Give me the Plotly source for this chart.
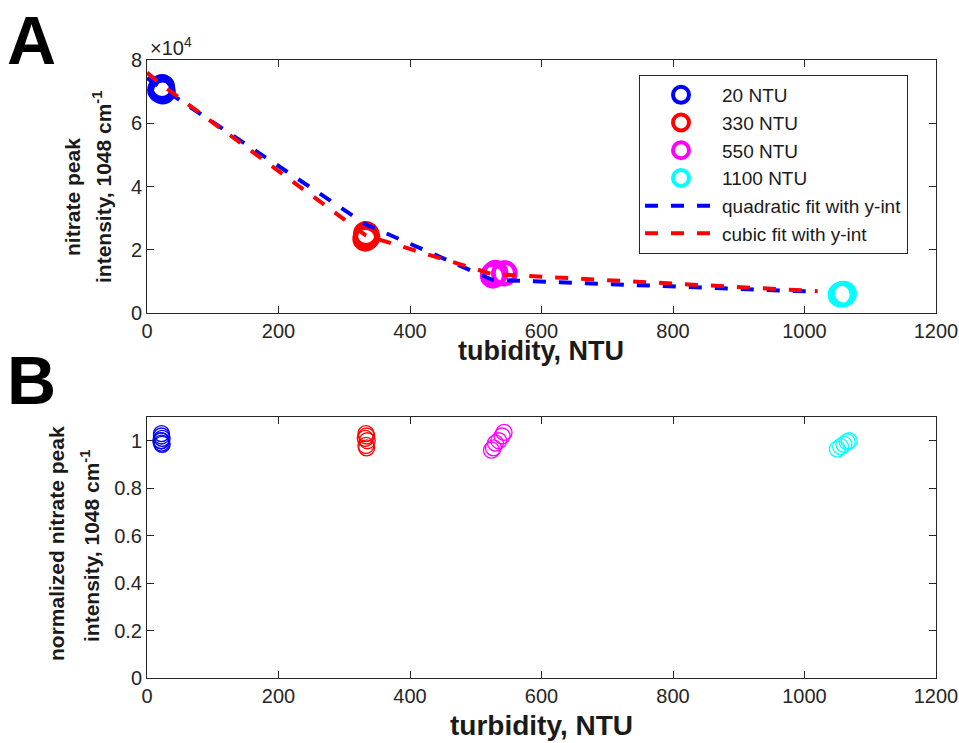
import plotly.graph_objects as go

# ---- data ----
groups = ["20 NTU", "330 NTU", "550 NTU", "1100 NTU"]
colors = ["#0000ff", "#ff0000", "#ff00ff", "#00ffff"]

# panel A: raw peak intensity
a_x = [
    [20, 22, 24, 21, 23],
    [332, 333, 334, 333, 335],
    [526, 528, 530, 543, 544],
    [1055, 1057, 1058, 1060, 1059],
]
a_y = [
    [70500, 71200, 70000, 70800, 71500],
    [23500, 24200, 24700, 25000, 24000],
    [11800, 12300, 12700, 12500, 12600],
    [5800, 5900, 6000, 6100, 5950],
]

# fits (evaluated at the points plotted)
quad_x = [0, 22, 333, 525, 1020]
quad_y = [74300, 71200, 28000, 10500, 6700]
cubic_x = [0, 22, 333, 525, 1020]
cubic_y = [76000, 72200, 24500, 12300, 6900]

# panel B: normalized peak intensity
b_x = [
    [22, 22, 23, 21, 22, 23, 22],
    [333, 334, 332, 335, 333, 334],
    [524, 527, 530, 535, 540, 543],
    [1050, 1055, 1060, 1065, 1068],
]
b_y = [
    [1.03, 1.02, 1.01, 1.0, 0.99, 0.985, 1.0],
    [1.03, 1.02, 1.01, 1.0, 0.98, 0.97],
    [0.96, 0.97, 0.99, 1.0, 1.02, 1.035],
    [0.965, 0.975, 0.985, 0.995, 1.0],
]

x_ticks = [0, 200, 400, 600, 800, 1000, 1200]
a_yticks = [0, 20000, 40000, 60000, 80000]
a_yticktext = ["0", "2", "4", "6", "8"]
b_yticks = [0, 0.2, 0.4, 0.6, 0.8, 1]
b_yticktext = ["0", "0.2", "0.4", "0.6", "0.8", "1"]

FONT = "Liberation Sans, Arial, sans-serif"
AX = "#262626"
TXT = "#1a1a1a"
W, H = 959, 743

fig = go.Figure()

for name, c, xs, ys in zip(groups, colors, a_x, a_y):
    fig.add_trace(go.Scatter(
        x=xs, y=ys, mode="markers", name=name,
        marker=dict(symbol="circle-open", size=22, color=c, line=dict(width=4, color=c)),
        xaxis="x", yaxis="y"))

fig.add_trace(go.Scatter(x=quad_x, y=quad_y, mode="lines", name="quadratic fit with y-int",
                         line=dict(color="#0000ff", width=4, dash="13px,13px"),
                         xaxis="x", yaxis="y"))
fig.add_trace(go.Scatter(x=cubic_x, y=cubic_y, mode="lines", name="cubic fit with y-int",
                         line=dict(color="#ff0000", width=4, dash="13px,13px"),
                         xaxis="x", yaxis="y"))

for name, c, xs, ys in zip(groups, colors, b_x, b_y):
    fig.add_trace(go.Scatter(
        x=xs, y=ys, mode="markers", name=name, showlegend=False,
        marker=dict(symbol="circle-open", size=16, color=c, line=dict(width=1.3, color=c)),
        xaxis="x2", yaxis="y2"))

axis_common = dict(
    showline=True, linecolor=AX, linewidth=1, mirror="ticks",
    ticks="inside", ticklen=7, tickcolor=AX, tickwidth=1,
    showgrid=False, zeroline=False, automargin=False,
    tickfont=dict(family=FONT, size=20, color=AX),
)


def px(x, y):
    return x / W, (H - y) / H


def ann(text, x, y, size, angle=0, color=TXT, xanchor="center", yanchor="middle"):
    ax_, ay_ = px(x, y)
    return dict(text=text, x=ax_, y=ay_, xref="paper", yref="paper", showarrow=False,
                textangle=angle, xanchor=xanchor, yanchor=yanchor,
                font=dict(family=FONT, size=size, color=color))


XD = [px(147, 0)[0], px(936, 0)[0]]
YD1 = [px(0, 313)[1], px(0, 60)[1]]
YD2 = [px(0, 678)[1], px(0, 417)[1]]
LX, LY = px(639, 75)

fig.update_layout(
    width=W, height=H,
    margin=dict(l=0, r=0, t=0, b=0),
    paper_bgcolor="white", plot_bgcolor="white",
    font=dict(family=FONT, color=AX),
    xaxis=dict(axis_common, domain=XD, range=[0, 1200], tickvals=x_ticks, anchor="y"),
    yaxis=dict(axis_common, domain=YD1, range=[0, 80000],
               tickvals=a_yticks, ticktext=a_yticktext, anchor="x"),
    xaxis2=dict(axis_common, domain=XD, range=[0, 1200], tickvals=x_ticks, anchor="y2"),
    yaxis2=dict(axis_common, domain=YD2, range=[0, 1.1],
                tickvals=b_yticks, ticktext=b_yticktext, anchor="x2"),
    legend=dict(x=LX, y=LY, xanchor="left", yanchor="top",
                bordercolor=AX, borderwidth=1, bgcolor="white",
                font=dict(family=FONT, size=19, color=TXT),
                tracegroupgap=0, itemwidth=72),
    annotations=[
        ann("<b>A</b>", 31, 40, 68, color="black"),
        ann("<b>B</b>", 31, 380, 68, color="black"),
        ann("×10<sup>4</sup>", 148, 46, 20, color=AX, xanchor="left"),
        ann("<b>tubidity, NTU</b>", 541, 351, 27),
        ann("<b>turbidity, NTU</b>", 541, 725, 28),
        ann("<b>nitrate peak</b>", 72, 197, 21, angle=-90),
        ann("<b>intensity, 1048 cm<sup>-1</sup></b>", 102, 187, 21, angle=-90),
        ann("<b>normalized nitrate peak</b>", 56, 544, 21, angle=-90),
        ann("<b>intensity, 1048 cm<sup>-1</sup></b>", 90, 546, 21, angle=-90),
    ],
)

fig.write_html(
    "out.html",
    config={"displayModeBar": False},
    post_script="document.body.style.margin='0';document.body.style.overflow='hidden';",
)
